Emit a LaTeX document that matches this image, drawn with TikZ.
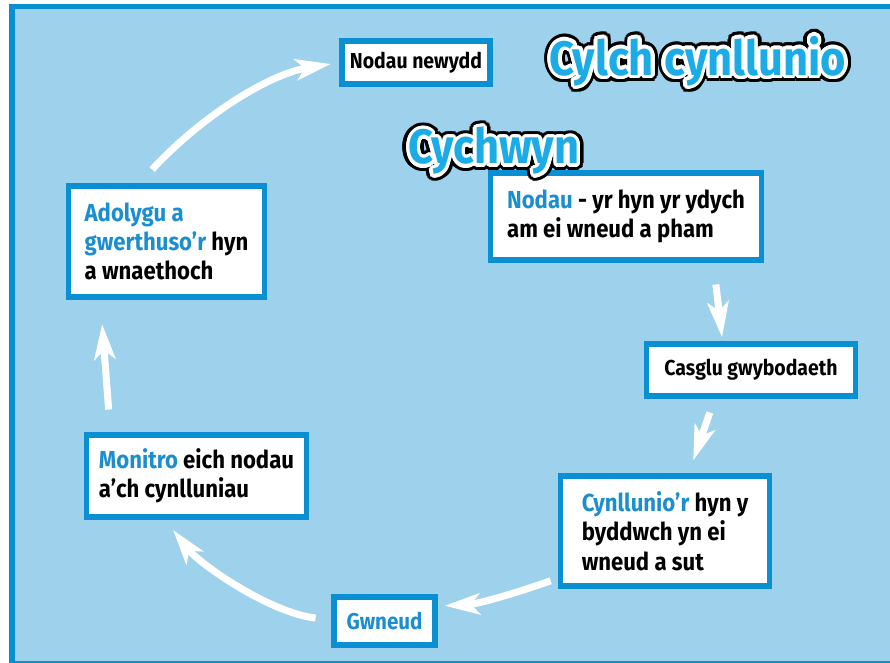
\documentclass[tikz,border=0pt]{standalone}
\usepackage{fontspec}
\setmainfont{Fira Sans}[FakeStretch=0.9]
\usepackage{xcolor}
\usetikzlibrary{arrows.meta}
\definecolor{skyback}{HTML}{9DD1EC}
\definecolor{frameblue}{HTML}{0A8FD3}
\definecolor{titleblue}{HTML}{1BACE8}
\definecolor{wordblue}{HTML}{1B8ECF}
\newcommand{\bw}[1]{\textcolor{wordblue}{#1}}

\begin{document}
\begin{tikzpicture}[x=0.02cm,y=-0.02cm,
    stage/.style={draw=frameblue, line width=3.2pt, fill=white, inner sep=0pt, align=left,
      font=\bfseries\fontsize{14}{16.7}\selectfont},
    smallstage/.style={stage, font=\bfseries\fontsize{#1}{16}\selectfont},
    cyclearrow/.style={draw=white, line width=4pt, -{Stealth[length=20pt,width=12pt,inset=5pt]}},
    bigtitle/.style={font=\bfseries\fontsize{#1}{#1}\selectfont}]
    	\useasboundingbox (0,0) rectangle (890,663);
    	\clip (0,0) rectangle (890,663);
    	\draw [frameblue, fill=skyback, line width=3.4pt] (12,6.5) rectangle (900,664);

    	\node[smallstage=12.3, minimum width=83.9pt, minimum height=24.4pt] (newydd) at (416,62.5) {Nodau newydd};
    	\node[stage, minimum width=154.2pt, minimum height=49.3pt] (nodau) at (626,216.5) {\bw{Nodau} - yr hyn yr ydych\\am ei wneud a pham};
    	\node[smallstage=12.3, minimum width=119pt, minimum height=29.5pt] (casglu) at (751,370) {Casglu gwybodaeth};
    	\node[stage, minimum width=119pt, minimum height=62.4pt] (cynllun) at (665,531) {\bw{Cynllunio’r} hyn y\\byddwch yn ei\\wneud a sut};
    	\node[smallstage=13, minimum width=57.3pt, minimum height=27.2pt, text=wordblue] (gwneud) at (384.5,621) {Gwneud};
    	\node[stage, minimum width=125.3pt, minimum height=46.5pt] (monitro) at (196.5,476) {\bw{Monitro} eich nodau\\a’ch cynlluniau};
    	\node[stage, minimum width=111.7pt, minimum height=62.9pt] (adolygu) at (166.5,241.5) {\bw{Adolygu a}\\\bw{gwerthuso’r} hyn\\a wnaethoch};

    	\draw [cyclearrow, shorten >=5pt] ([xshift=-8.2pt,yshift=7.9pt]adolygu.north) .. controls +(48,-52) and +(-72,12) .. (newydd.west);
    	\draw [cyclearrow, shorten <=12.5pt, shorten >=2.3pt] ([xshift=49.7pt]nodau.south) -- ([xshift=-16.2pt]casglu.north);
    	\draw [cyclearrow, shorten <=8.3pt, shorten >=7.8pt] ([xshift=-20.7pt]casglu.south) -- ([xshift=13.5pt]cynllun.north);
    	\draw [cyclearrow, shorten >=4pt] ([xshift=-4pt,yshift=4.5pt]cynllun.south west) .. controls +(-33,12) and +(40,-2) .. ([yshift=8.5pt]gwneud.east);
    	\draw [cyclearrow, shorten >=7.4pt] ([xshift=-9pt,yshift=1.7pt]gwneud.west) .. controls +(-45,-5) and +(35,45) .. ([xshift=-17.9pt]monitro.south);
    	\draw [cyclearrow, shorten <=13pt, shorten >=14pt] ([xshift=-49pt]monitro.north) -- ([xshift=-37.7pt]adolygu.south);

    	\coordinate (cylchpos) at (698,61);
    	\coordinate (cychpos) at (494,151);
    	\foreach \t/\p/\s in {Cylch cynllunio/cylchpos/27.5, Cychwyn/cychpos/27.5} {
    	  \foreach \a in {0,15,...,345} {
    	    \node[bigtitle=\s, text=black] (ring-\p-\a) at ([shift={(\a:3.8pt)}]\p) {\t};
    	    \node[bigtitle=\s, text=black] (mid-\p-\a) at ([shift={(\a:2.8pt)}]\p) {\t};
    	  }
    	  \foreach \a in {0,15,...,345}
    	    \node[bigtitle=\s, text=white] (halo-\p-\a) at ([shift={(\a:1.9pt)}]\p) {\t};
    	  \node[bigtitle=\s, text=titleblue] (title-\p) at (\p) {\t};
    	}
    	\end{tikzpicture}
\end{document}
